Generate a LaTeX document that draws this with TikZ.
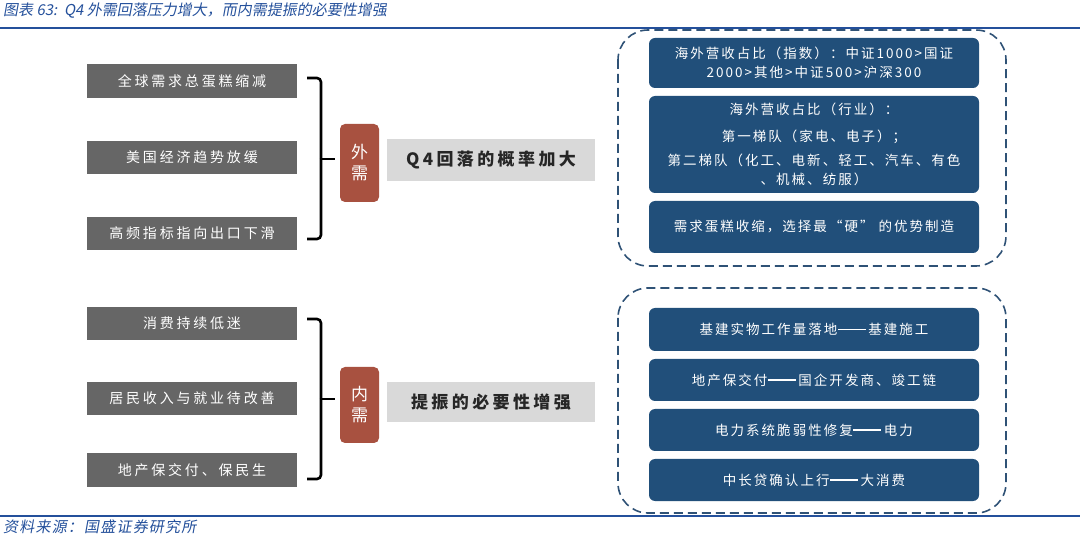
\documentclass[tikz,border=0pt]{standalone}
\usepackage{fontspec}
\setmainfont{Noto Sans CJK SC}
\newfontfamily\cjkwide{Noto Sans CJK SC}[LetterSpace=20]
\newfontfamily\cjkmid{Noto Sans CJK SC}[LetterSpace=15]
\newfontfamily\cjkslant{Noto Sans CJK SC}[FakeSlant=0.18]
\newfontfamily\cjkfoot{Noto Sans CJK SC}[FakeSlant=0.18,LetterSpace=8]
\newcommand{\longdash}{\hspace{0.5pt}\rule[4.6pt]{28pt}{1.1pt}\hspace{2.5pt}}
\definecolor{hdrblue}{RGB}{36,80,155}
\definecolor{boxgray}{RGB}{102,102,102}
\definecolor{boxred}{RGB}{168,81,64}
\definecolor{boxlight}{RGB}{217,217,217}
\definecolor{boxblue}{RGB}{33,79,122}
\definecolor{dashblue}{RGB}{47,82,118}
\tikzset{
  leftbox/.style={fill=boxgray, text=white, minimum width=210pt, inner sep=0pt,
    font=\fontsize{14}{18}\selectfont\cjkwide},
  redbox/.style={fill=boxred, text=white, rounded corners=5pt, minimum width=39pt,
    inner sep=0pt, align=center, font=\fontsize{17}{21}\selectfont},
  lightbox/.style={fill=boxlight, text=black!85, minimum width=208pt, inner sep=0pt,
    font=\fontsize{17}{21}\selectfont\bfseries\cjkwide},
  bluebox/.style={fill=boxblue, text=white, rounded corners=6pt, minimum width=330pt,
    inner sep=0pt, align=center, font=\fontsize{13.5}{19}\selectfont\cjkmid},
  dashbox/.style={draw=dashblue, line width=1.6pt, dash pattern=on 9pt off 5pt, rounded corners=30pt},
  bracket/.style={draw=black, line width=2.6pt, rounded corners=4pt},
  rule/.style={draw=hdrblue, line width=2pt}
}
\begin{document}
\begin{tikzpicture}[x=1pt,y=-1pt]
\useasboundingbox (0,0) rectangle (1080,537);
% header and footer
\node[anchor=west, text=hdrblue, inner sep=0pt, font=\fontsize{15}{18}\selectfont\cjkslant] (title) at (3,11)
  {图表 63:\ \ Q4 外需回落压力增大，而内需提振的必要性增强};
\draw[rule] (0,28) -- (1080,28);
\draw[rule] (0,516) -- (1080,516);
\node[anchor=west, text=hdrblue, inner sep=0pt, font=\fontsize{15}{18}\selectfont\cjkfoot] (source) at (3,527)
  {资料来源：国盛证券研究所};

% ===== top group =====
\node[leftbox, minimum height=34pt] (a1) at (192,81) {全球需求总蛋糕缩减};
\node[leftbox, minimum height=33pt] (a2) at (192,157.5) {美国经济趋势放缓};
\node[leftbox, minimum height=33pt] (a3) at (192,233.5) {高频指标指向出口下滑};
\coordinate (at) at (307,78);
\coordinate (am) at (321,159);
\coordinate (ab) at (307,239);
\coordinate (atip) at (335,159);
\draw[bracket] (at) -| (am);
\draw[bracket] (am) |- (ab);
\draw[bracket] (am) -- (atip);
\node[redbox, minimum height=78pt] (ared) at (359.5,163) {外\\需};
\node[lightbox, minimum height=42pt] (aconc) at (491,160) {Q4回落的概率加大};

\draw[dashbox] (618,30) rectangle (1006,266);
\node[bluebox, minimum height=50pt] (r1) at (814,63)
  {海外营收占比（指数）：中证1000>国证\\2000>其他>中证500>沪深300};
\node[bluebox, minimum height=97pt] (r2) at (814,144.5)
  {海外营收占比（行业）：\\[8pt]第一梯队（家电、电子）；\\[5pt]第二梯队（化工、电新、轻工、汽车、有色\\、机械、纺服）};
\node[bluebox, minimum height=52pt] (r3) at (814,227)
  {需求蛋糕收缩，选择最“硬” 的优势制造};

% ===== bottom group =====
\node[leftbox, minimum height=33pt] (b1) at (192,323.5) {消费持续低迷};
\node[leftbox, minimum height=33pt] (b2) at (192,398.5) {居民收入与就业待改善};
\node[leftbox, minimum height=34pt] (b3) at (192,470) {地产保交付、保民生};
\coordinate (bt) at (307,319);
\coordinate (bm) at (321,399);
\coordinate (bb) at (307,479);
\coordinate (btip) at (335,399);
\draw[bracket] (bt) -| (bm);
\draw[bracket] (bm) |- (bb);
\draw[bracket] (bm) -- (btip);
\node[redbox, minimum height=76pt] (bred) at (359.5,405) {内\\需};
\node[lightbox, minimum height=40pt] (bconc) at (491,402) {提振的必要性增强};

\draw[dashbox] (618,288) rectangle (1006,513);
\node[bluebox, minimum height=43pt] (s1) at (814,329.5) {基建实物工作量落地\longdash 基建施工};
\node[bluebox, minimum height=42pt] (s2) at (814,380) {地产保交付\longdash 国企开发商、竣工链};
\node[bluebox, minimum height=42pt] (s3) at (814,430) {电力系统脆弱性修复\longdash 电力};
\node[bluebox, minimum height=42pt] (s4) at (814,480) {中长贷确认上行\longdash 大消费};
\end{tikzpicture}
\end{document}
